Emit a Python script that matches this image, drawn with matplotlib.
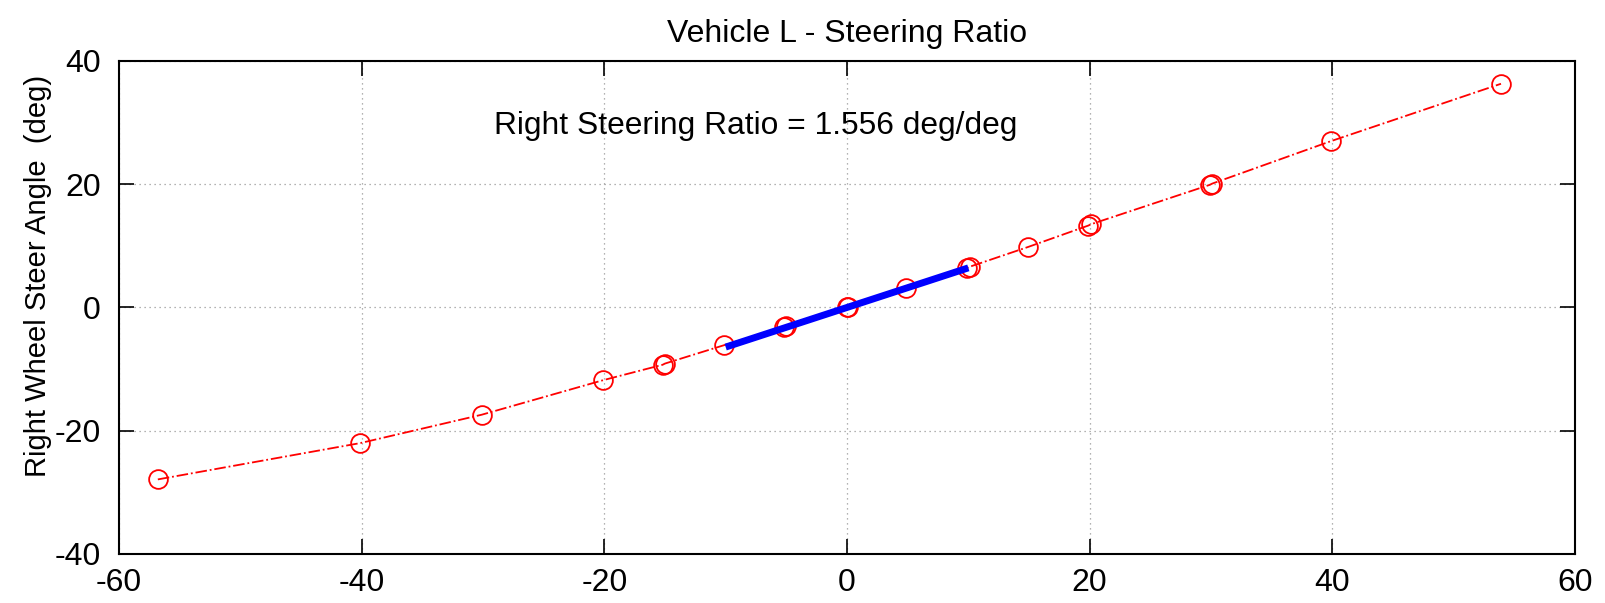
import matplotlib.pyplot as plt

plt.rcParams['font.family'] = ['Liberation Sans', 'DejaVu Sans']
plt.rcParams['axes.unicode_minus'] = False

# measured sweep: steering wheel angle vs right wheel steer angle (deg)
hand_wheel = [-56.8, -40.1, -30.1, -20.1, -15.2, -15.0, -10.1, -5.2, -5.0, 0.0, 0.1,
              4.9, 9.9, 10.1, 14.9, 19.9, 20.1, 29.9, 30.1, 39.9, 53.9]
road_wheel = [-27.9, -22.0, -17.4, -11.8, -9.3, -9.1, -6.1, -3.2, -3.0, 0.0, 0.1,
              3.2, 6.4, 6.6, 9.8, 13.3, 13.5, 19.9, 20.1, 27.0, 36.3]

# linear fit over +/-10 deg
ratio = 1.556
fit_x = [-10.0, 10.0]
fit_y = [v / ratio for v in fit_x]

xticks = [-60, -40, -20, 0, 20, 40, 60]
yticks = [-40, -20, 0, 20, 40]

fig = plt.figure(figsize=(16.06, 6.03), dpi=100)
ax = fig.add_axes([0.0741, 0.0813, 0.9066, 0.8176])

ax.plot(hand_wheel, road_wheel, 'r-.', lw=1.3, marker='o', markersize=13.5,
        markerfacecolor='none', markeredgecolor='red', markeredgewidth=1.3)
ax.plot(fit_x, fit_y, color='#0000ff', lw=5, solid_capstyle='butt', zorder=3)

ax.set_xlim(-60, 60)
ax.set_ylim(-40, 40)
ax.set_xticks(xticks)
ax.set_yticks(yticks)
ax.grid(True, linestyle=(0, (1, 3)), color='#999999', lw=0.9)
ax.tick_params(direction='in', length=11, width=1.2, labelsize=23,
               top=True, right=True)
ax.tick_params(axis='x', pad=10)
ax.tick_params(axis='y', pad=13)
for s in ax.spines.values():
    s.set_linewidth(1.5)

ax.set_title('Vehicle L - Steering Ratio', fontsize=23, pad=14)
ax.set_ylabel('Right Wheel Steer Angle  (deg)', fontsize=21)
ax.yaxis.set_label_coords(-0.046, 0.564)
ax.text(-29.1, 29.5, 'Right Steering Ratio = %.3f deg/deg' % ratio, fontsize=22.9,
        va='center', ha='left')

fig.savefig('out.png', dpi=100)
